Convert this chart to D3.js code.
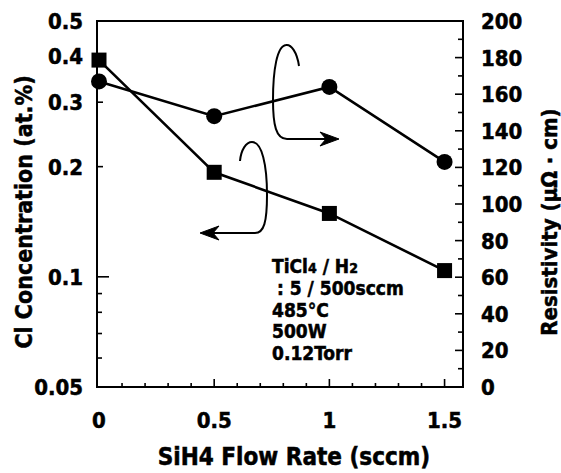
<!DOCTYPE html>
<html>
<head>
<meta charset="utf-8">
<script src="https://cdn.jsdelivr.net/npm/d3@7"></script>
<style>
  body { margin: 0; background: #fff; }
  svg text {
    font-family: "DejaVu Sans Condensed", "DejaVu Sans", sans-serif;
    font-stretch: condensed;
    font-weight: bold;
    fill: #000;
    stroke: #000;
    stroke-width: 0.5px;
  }
</style>
</head>
<body>
<svg id="chart"></svg>
<script>
// data
const flow = [0, 0.5, 1, 1.5];
const clConc = [0.391, 0.193, 0.149, 0.104];
const resistivity = [167, 148, 164, 123];

const xTicks = [0, 0.5, 1, 1.5];
const xTickLabels = ["0", "0.5", "1", "1.5"];
const leftTicks = [0.05, 0.1, 0.2, 0.3, 0.4, 0.5];
const leftTickLabels = ["0.05", "0.1", "0.2", "0.3", "0.4", "0.5"];
const leftMinor = [0.06, 0.07, 0.08, 0.09];
const rightTicks = [0, 20, 40, 60, 80, 100, 120, 140, 160, 180, 200];
const rightMinor = [10, 30, 50, 70, 90, 110, 130, 150, 170, 190];
const noteLines = [": 5 / 500sccm", "485°C", "500W", "0.12Torr"];

const width = 561, height = 473;
const plot = { left: 97, right: 463, top: 21, bottom: 387 };

let svg = d3.select("svg#chart")
  .attr("width", width)
  .attr("height", height);

let xScale = d3.scaleLinear().domain([0, 1.58]).range([plot.left + 2, plot.right]);
let yLeft = d3.scaleLog().domain([0.05, 0.5]).range([plot.bottom, plot.top]);
let yRight = d3.scaleLinear().domain([0, 200]).range([plot.bottom, plot.top]);

// frame
svg.append("rect")
  .attr("x", plot.left).attr("y", plot.top)
  .attr("width", plot.right - plot.left).attr("height", plot.bottom - plot.top)
  .attr("fill", "none").attr("stroke", "#000").attr("stroke-width", 2);

// ticks (all pointing inward)
const tickG = svg.append("g").attr("stroke", "#000").attr("stroke-width", 1.6);
d3.range(1, 16).forEach(i => {
  const v = i / 10;
  const major = i % 5 === 0;
  tickG.append("line")
    .attr("x1", xScale(v)).attr("x2", xScale(v))
    .attr("y1", plot.bottom).attr("y2", plot.bottom - (major ? 8 : 4));
});
leftTicks.slice(1, -1).forEach(v => {
  tickG.append("line")
    .attr("x1", plot.left).attr("x2", plot.left + (v === 0.1 ? 12 : 6))
    .attr("y1", yLeft(v)).attr("y2", yLeft(v));
});
leftMinor.forEach(v => {
  tickG.append("line")
    .attr("x1", plot.left).attr("x2", plot.left + 5)
    .attr("y1", yLeft(v)).attr("y2", yLeft(v));
});
rightTicks.slice(1, -1).forEach(v => {
  tickG.append("line")
    .attr("x1", plot.right).attr("x2", plot.right - 8)
    .attr("y1", yRight(v)).attr("y2", yRight(v));
});
rightMinor.forEach(v => {
  tickG.append("line")
    .attr("x1", plot.right).attr("x2", plot.right - 5)
    .attr("y1", yRight(v)).attr("y2", yRight(v));
});

// tick labels
svg.append("g").selectAll("text")
  .data(xTicks)
  .join("text")
  .attr("x", d => xScale(d))
  .attr("y", 428)
  .attr("text-anchor", "middle")
  .style("font-size", "22px")
  .text((d, i) => xTickLabels[i]);

svg.append("g").selectAll("text")
  .data(leftTicks)
  .join("text")
  .attr("x", 83)
  .attr("y", d => yLeft(d) + 8)
  .attr("text-anchor", "end")
  .style("font-size", "22px")
  .text((d, i) => leftTickLabels[i]);

svg.append("g").selectAll("text")
  .data(rightTicks)
  .join("text")
  .attr("x", 481)
  .attr("y", d => yRight(d) + 8)
  .attr("text-anchor", "start")
  .style("font-size", "22px")
  .text(d => d);

// axis titles
svg.append("text")
  .attr("x", 294).attr("y", 465)
  .attr("text-anchor", "middle")
  .style("font-size", "24px")
  .text("SiH4 Flow Rate (sccm)");

svg.append("text")
  .attr("transform", "translate(32,212) rotate(-90)")
  .attr("text-anchor", "middle")
  .style("font-size", "23px")
  .text("Cl Concentration (at.%)");

svg.append("text")
  .attr("transform", "translate(557,222) rotate(-90)")
  .attr("text-anchor", "middle")
  .style("font-size", "22px")
  .text("Resistivity (μΩ · cm)");

// series
const clData = flow.map((x, i) => ({ x, y: clConc[i] }));
const resData = flow.map((x, i) => ({ x, y: resistivity[i] }));

svg.append("path")
  .datum(clData)
  .attr("fill", "none").attr("stroke", "#000").attr("stroke-width", 2.6)
  .attr("d", d3.line().x(d => xScale(d.x)).y(d => yLeft(d.y)));

svg.append("path")
  .datum(resData)
  .attr("fill", "none").attr("stroke", "#000").attr("stroke-width", 2.6)
  .attr("d", d3.line().x(d => xScale(d.x)).y(d => yRight(d.y)));

svg.append("g").selectAll("rect")
  .data(clData)
  .join("rect")
  .attr("x", d => xScale(d.x) - 7.5)
  .attr("y", d => yLeft(d.y) - 7.5)
  .attr("width", 15).attr("height", 15)
  .attr("fill", "#000");

svg.append("g").selectAll("circle")
  .data(resData)
  .join("circle")
  .attr("cx", d => xScale(d.x))
  .attr("cy", d => yRight(d.y))
  .attr("r", 8)
  .attr("fill", "#000");

// curved arrows pointing to each axis
const arrowG = svg.append("g")
  .attr("fill", "none").attr("stroke", "#000").attr("stroke-width", 2);
arrowG.append("path")
  .attr("d", "M299,66 C297,52 291,44 286,45 C277,46 273,70 273,100 C273,125 276,139 287,139 L330,139");
arrowG.append("path")
  .attr("fill", "#000").attr("stroke-width", 1)
  .attr("d", "M339,139 L320,132 L326,139 L320,146 Z");
arrowG.append("path")
  .attr("d", "M240,161 C241,150 246,142 252,142 C262,142 267,165 267,195 C267,222 264,233 255,233 L210,233");
arrowG.append("path")
  .attr("fill", "#000").attr("stroke-width", 1)
  .attr("d", "M200,233 L219,226 L213,233 L219,240 Z");

// process conditions note
const note = svg.append("g").style("font-size", "19px");
const t1 = note.append("text").attr("x", 272).attr("y", 273);
t1.append("tspan").text("TiCl");
t1.append("tspan").style("font-size", "14px").text("4");
t1.append("tspan").text(" / H");
t1.append("tspan").style("font-size", "14px").text("2");
note.selectAll("text.line")
  .data(noteLines)
  .join("text")
  .attr("class", "line")
  .attr("x", (d, i) => i === 0 ? 277 : 272)
  .attr("y", (d, i) => 295 + i * 21.5)
  .text(d => d);
</script>
</body>
</html>
